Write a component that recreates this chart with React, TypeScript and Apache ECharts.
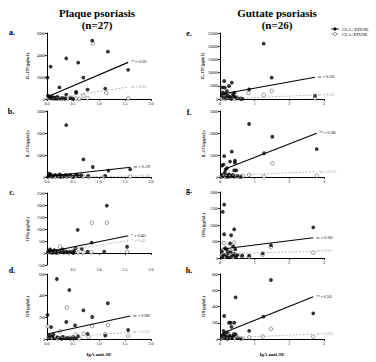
import React, { useEffect, useRef } from "react";
import * as echarts from "echarts";

const FONT = "Liberation Serif, Times New Roman, serif";

// Plaque psoriasis (n=27): x = IgA anti-SE
const plaqueIL17F_pos = [[0.01,1950],[0.07,2950],[0.37,3700],[0.60,3300],[0.87,5300],[1.17,4300],[0.70,1950],[1.56,2650],[0.24,1050],[0.78,850],[1.12,950],[0.56,650],[0.56,550],[0.37,400],[0.02,300],[0.05,150],[0.08,80],[0.10,200],[0.12,50],[0.15,120],[0.18,30],[0.20,180],[0.25,60],[0.30,100],[0.35,40],[0.45,80],[0.50,20]];
const plaqueIL17F_neg = [[0.88,5050],[1.14,550],[0.70,300],[0.03,100],[0.06,40],[0.09,150],[0.13,20],[0.17,80],[0.22,30],[0.28,10],[0.33,60],[0.40,20],[0.48,50],[0.55,30],[0.62,10],[0.78,80],[1.56,60]];
const plaqueIL17F_fitPos = [[0.01,210],[1.56,3330]];
const plaqueIL17F_fitNeg = [[0.10,50],[1.56,1080]];

const plaqueIL17A_pos = [[0.37,2360],[0.70,800],[0.88,455],[1.18,290],[1.60,350],[1.12,45],[0.79,50],[0.07,120],[0.58,110],[0.02,30],[0.05,80],[0.10,20],[0.13,60],[0.16,100],[0.20,40],[0.24,120],[0.28,70],[0.32,30],[0.36,90],[0.40,50],[0.45,100],[0.50,20],[0.55,60],[0.62,30],[0.66,80],[0.04,150],[0.26,10]];
const plaqueIL17A_neg = [[0.03,20],[0.08,40],[0.15,10],[0.22,30],[0.30,15],[0.38,25],[0.47,10],[0.55,30],[0.70,20],[0.80,10],[1.10,15],[1.60,20]];
const plaqueIL17A_fitPos = [[0.0,20],[1.61,440]];
const plaqueIL17A_fitNeg = [[0.0,0],[1.61,40]];

const plaqueIFNg_pos = [[1.15,1970],[0.59,960],[0.86,430],[1.54,260],[0.67,170],[0.78,60],[1.10,60],[0.55,190],[0.06,150],[0.02,50],[0.04,100],[0.08,20],[0.10,80],[0.12,30],[0.15,60],[0.18,10],[0.20,90],[0.25,40],[0.28,100],[0.32,20],[0.36,70],[0.40,30],[0.45,50],[0.50,10],[0.52,80],[0.14,120],[0.30,150]];
const plaqueIFNg_neg = [[0.86,1260],[1.15,1260],[0.25,260],[1.54,50],[0.03,30],[0.07,80],[0.12,10],[0.18,50],[0.22,20],[0.35,40],[0.42,10],[0.50,60],[0.60,20],[0.70,10],[0.85,30]];
const plaqueIFNg_fitPos = [[0.0,30],[1.56,720]];
const plaqueIFNg_fitNeg = [[0.0,0],[1.56,510]];

const plaqueIL9_pos = [[0.19,554],[0.43,452],[0.70,265],[1.17,330],[0.87,203],[0.01,222],[0.37,157],[0.54,126],[0.08,110],[1.56,83],[0.78,46],[1.12,32],[0.05,30],[0.03,10],[0.10,20],[0.14,5],[0.20,15],[0.25,8],[0.30,20],[0.35,5],[0.40,12],[0.45,3],[0.50,18],[0.55,6],[0.60,25],[0.12,40],[0.28,2]];
const plaqueIL9_neg = [[0.38,290],[0.87,120],[1.17,130],[0.01,115],[0.25,70],[0.70,50],[0.55,40],[0.04,20],[0.10,10],[0.15,25],[0.20,5],[0.32,15],[0.45,10],[0.62,5],[0.80,20],[1.12,45],[1.56,30]];
const plaqueIL9_fitPos = [[0.0,46],[1.6,212]];
const plaqueIL9_fitNeg = [[0.0,6],[1.6,62]];

// Guttate psoriasis (n=26)
const guttIL17F_pos = [[1.26,20950],[1.49,8070],[0.12,6820],[0.34,6180],[0.26,4920],[0.07,4420],[0.14,4300],[0.84,3670],[0.42,2400],[2.74,1260],[0.05,1500],[0.10,500],[0.15,2000],[0.18,300],[0.22,1200],[0.28,800],[0.32,100],[0.38,1800],[0.45,600],[0.50,200],[0.60,100],[0.08,2500],[0.20,3000],[0.30,400],[0.40,1000],[0.65,50]];
const guttIL17F_neg = [[1.49,3030],[0.82,2270],[1.26,1520],[0.05,200],[0.10,800],[0.14,100],[0.20,400],[0.28,1500],[0.35,300],[0.42,50],[0.50,600],[0.60,100],[2.74,300],[0.09,1000]];
const guttIL17F_fitPos = [[0.07,1890],[2.74,8210]];
const guttIL17F_fitNeg = [[0.07,0],[2.74,1520]];

const guttIL17A_pos = [[0.84,2410],[1.51,1830],[2.79,1270],[0.34,1150],[1.27,1080],[0.12,950],[0.43,740],[0.43,650],[0.29,700],[0.06,520],[0.10,560],[0.41,300],[0.47,300],[0.05,100],[0.08,30],[0.14,200],[0.18,60],[0.22,10],[0.26,120],[0.30,40],[0.36,80],[0.40,20],[0.50,50],[0.60,10],[0.20,400],[0.16,330]];
const guttIL17A_neg = [[1.51,620],[0.84,100],[0.05,40],[0.10,120],[0.15,10],[0.22,60],[0.30,20],[0.38,90],[0.45,30],[0.55,10],[0.65,40],[1.27,20],[2.79,60]];
const guttIL17A_fitPos = [[0.14,360],[2.79,1985]];
const guttIL17A_fitNeg = [[0.05,60],[2.79,240]];

const guttIFNg_pos = [[0.12,1620],[0.08,1400],[2.69,930],[0.12,720],[0.32,690],[0.41,870],[0.29,440],[0.44,260],[1.47,390],[1.23,140],[0.84,70],[0.64,75],[0.05,200],[0.10,100],[0.15,300],[0.18,50],[0.22,150],[0.26,20],[0.30,180],[0.35,60],[0.40,120],[0.45,30],[0.50,90],[0.07,40],[0.20,250],[0.38,350]];
const guttIFNg_neg = [[0.12,450],[0.41,470],[1.47,330],[1.23,100],[2.69,160],[0.05,80],[0.09,250],[0.14,30],[0.20,120],[0.25,60],[0.32,200],[0.38,20],[0.46,100],[0.55,40],[0.84,30],[0.64,50]];
const guttIFNg_fitPos = [[0.07,273],[2.69,615]];
const guttIFNg_fitNeg = [[0.05,130],[2.69,200]];

const guttIL9_pos = [[1.47,726],[0.45,513],[0.12,283],[1.25,275],[2.69,316],[0.26,200],[0.31,200],[0.41,200],[0.33,150],[0.84,100],[0.10,100],[0.40,60],[0.45,60],[0.05,20],[0.08,50],[0.14,10],[0.18,30],[0.22,5],[0.28,40],[0.35,15],[0.50,10],[0.60,5],[0.12,60],[0.20,80],[0.30,20],[0.38,30]];
const guttIL9_neg = [[1.47,125],[1.23,30],[2.69,30],[0.05,10],[0.10,40],[0.15,20],[0.20,5],[0.25,60],[0.30,15],[0.35,30],[0.42,10],[0.50,25],[0.64,5],[0.84,20]];
const guttIL9_fitPos = [[0.07,70],[2.69,521]];
const guttIL9_fitNeg = [[0.07,10],[2.69,60]];

const panels = [
  { letter: "a.", lx: 12, ly: 32, left: 47, top: 33, height: 66, xMax: 2, xInt: 0.5, yMin: 0, yMax: 6000, yInt: 2000, yName: "IL-17F (pg/mL)", nameGap: 18, pos: plaqueIL17F_pos, neg: plaqueIL17F_neg, fitPos: plaqueIL17F_fitPos, fitNeg: plaqueIL17F_fitNeg, rPos: "** r=0.501", rNeg: "ns  r=0.251" },
  { letter: "b.", lx: 11, ly: 111, left: 47, top: 111, height: 66, xMax: 2, xInt: 0.5, yMin: 0, yMax: 3000, yInt: 1000, yName: "IL-17A (pg/mL)", nameGap: 18, pos: plaqueIL17A_pos, neg: plaqueIL17A_neg, fitPos: plaqueIL17A_fitPos, fitNeg: plaqueIL17A_fitNeg, rPos: "ns  r=0.139", rNeg: "ns  r=0.100" },
  { letter: "c.", lx: 12, ly: 192, left: 47, top: 193, height: 72, xMax: 2, xInt: 0.5, yMin: -500, yMax: 2500, yInt: 500, yName: "IFNγ (pg/mL)", nameGap: 18, hideMinX: true, pos: plaqueIFNg_pos, neg: plaqueIFNg_neg, fitPos: plaqueIFNg_fitPos, fitNeg: plaqueIFNg_fitNeg, rPos: "*  r=0.461", rNeg: "*  r=0.415" },
  { letter: "d.", lx: 12, ly: 270, left: 47, top: 274, height: 65, xMax: 2, xInt: 0.5, yMin: 0, yMax: 600, yInt: 200, yName: "IL9 (pg/mL)", nameGap: 18, xName: "IgA anti-SE", pos: plaqueIL9_pos, neg: plaqueIL9_neg, fitPos: plaqueIL9_fitPos, fitNeg: plaqueIL9_fitNeg, rPos: "ns  r=0.288", rNeg: "ns  r=0.125" },
  { letter: "e.", lx: 189, ly: 33, left: 220, top: 33, height: 66, xMax: 3, xInt: 1, yMin: 0, yMax: 25000, yInt: 5000, yName: "IL-17F (pg/mL)", nameGap: 15, pos: guttIL17F_pos, neg: guttIL17F_neg, fitPos: guttIL17F_fitPos, fitNeg: guttIL17F_fitNeg, rPos: "ns  r=0.330", rNeg: "ns  r=0.133" },
  { letter: "f.", lx: 189, ly: 112, left: 220, top: 111, height: 66, xMax: 3, xInt: 1, yMin: 0, yMax: 3000, yInt: 1000, yName: "IL-17A (pg/mL)", nameGap: 15, pos: guttIL17A_pos, neg: guttIL17A_neg, fitPos: guttIL17A_fitPos, fitNeg: guttIL17A_fitNeg, rPos: "** r=0.586", rNeg: "ns  r=0.273" },
  { letter: "g.", lx: 189, ly: 190, left: 220, top: 192, height: 66, xMax: 3, xInt: 1, yMin: 0, yMax: 2000, yInt: 500, yName: "IFNγ (pg/mL)", nameGap: 15, pos: guttIFNg_pos, neg: guttIFNg_neg, fitPos: guttIFNg_fitPos, fitNeg: guttIFNg_fitNeg, rPos: "ns  r=0.160", rNeg: "ns  r=0.171" },
  { letter: "h.", lx: 189, ly: 270, left: 220, top: 274, height: 65, xMax: 3, xInt: 1, yMin: 0, yMax: 800, yInt: 200, yName: "IL9 (pg/mL)", nameGap: 15, xName: "IgA anti-SE", pos: guttIL9_pos, neg: guttIL9_neg, fitPos: guttIL9_fitPos, fitNeg: guttIL9_fitNeg, rPos: "** r=0.505", rNeg: "ns  r=0.224" },
];

const legendItems = ["CLA+/EPUSE", "CLA-/EPUSE"];

export default function App() {
  const ref = useRef<HTMLDivElement>(null);
  useEffect(() => {
    if (!ref.current) return;
    const chart = echarts.init(ref.current, undefined, { renderer: "svg" });
    const axisLine = { show: true, onZero: true, lineStyle: { color: "#000", width: 1 } };
    const axisTick = { show: true, length: 2, lineStyle: { color: "#000", width: 0.8 } };
    const labelStyle = { fontSize: 4, color: "#000", fontFamily: FONT, margin: 2 };
    const series: any[] = [];
    panels.forEach((p, i) => {
      series.push({
        type: "scatter", xAxisIndex: i, yAxisIndex: i, data: p.neg, symbolSize: 3.6,
        itemStyle: { color: "#fff", borderColor: "#444", borderWidth: 0.7 }, silent: true,
      });
      series.push({
        type: "scatter", xAxisIndex: i, yAxisIndex: i, data: p.pos, symbolSize: 3.8,
        itemStyle: { color: "#000" }, silent: true,
      });
      series.push({
        type: "line", xAxisIndex: i, yAxisIndex: i, data: p.fitNeg, symbol: "none", silent: true,
        lineStyle: { color: "#aaa", width: 0.8, type: [2, 1.5] },
        endLabel: { show: true, formatter: p.rNeg, fontSize: 3.6, color: "#999", fontFamily: FONT, distance: 3 },
      });
      series.push({
        type: "line", xAxisIndex: i, yAxisIndex: i, data: p.fitPos, symbol: "none", silent: true,
        lineStyle: { color: "#000", width: 1.1 },
        endLabel: { show: true, formatter: p.rPos, fontSize: 3.6, color: "#000", fontFamily: FONT, distance: 3 },
      });
    });

    const titleStyle = { fontSize: 11, fontWeight: "bold", fontFamily: FONT, fill: "#000", align: "center", verticalAlign: "middle" };
    const graphics: any[] = [
      { type: "text", x: 97, y: 13, style: { ...titleStyle, text: "Plaque psoriasis" } },
      { type: "text", x: 97, y: 25, style: { ...titleStyle, text: "(n=27)" } },
      { type: "text", x: 277, y: 13, style: { ...titleStyle, text: "Guttate psoriasis" } },
      { type: "text", x: 277, y: 25, style: { ...titleStyle, text: "(n=26)" } },
    ];
    panels.forEach((p) => {
      graphics.push({ type: "text", x: p.lx, y: p.ly, style: { text: p.letter, fontSize: 8, fontWeight: "bold", fontFamily: FONT, fill: "#000", align: "center", verticalAlign: "middle" } });
    });
    legendItems.forEach((t, k) => {
      const y = 29 + k * 5;
      graphics.push({ type: "line", shape: { x1: 331, y1: y, x2: 339, y2: y }, style: { stroke: k === 0 ? "#000" : "#999", lineWidth: 0.8, lineDash: k === 0 ? null : [1.5, 1] } });
      graphics.push({ type: "circle", shape: { cx: 335, cy: y, r: 1.6 }, style: k === 0 ? { fill: "#000" } : { fill: "#fff", stroke: "#444", lineWidth: 0.6 } });
      graphics.push({ type: "text", x: 342, y, style: { text: t, fontSize: 4.5, fontFamily: FONT, fill: "#000", align: "left", verticalAlign: "middle" } });
    });

    chart.setOption({
      animation: false,
      backgroundColor: "#fff",
      grid: panels.map((p) => ({ left: p.left, top: p.top, width: 104, height: p.height })),
      xAxis: panels.map((p, i) => ({
        gridIndex: i, type: "value", min: 0, max: p.xMax, interval: p.xInt,
        axisLine, axisTick, splitLine: { show: false },
        axisLabel: { ...labelStyle, showMinLabel: !p.hideMinX, formatter: (v: number) => (p.xMax === 2 ? v.toFixed(1) : String(v)) },
        name: p.xName || "", nameLocation: "middle", nameGap: 13,
        nameTextStyle: { fontSize: 5, fontWeight: "bold", fontFamily: FONT, color: "#000" },
      })),
      yAxis: panels.map((p, i) => ({
        gridIndex: i, type: "value", min: p.yMin, max: p.yMax, interval: p.yInt,
        axisLine, axisTick, splitLine: { show: false },
        axisLabel: { ...labelStyle, formatter: (v: number) => String(v) },
        name: p.yName, nameLocation: "middle", nameGap: p.nameGap, nameRotate: 90,
        nameTextStyle: { fontSize: 4, fontWeight: "bold", fontFamily: FONT, color: "#000" },
      })),
      series,
      graphic: graphics,
    });
    return () => chart.dispose();
  }, []);
  return <div ref={ref} style={{ position: "fixed", left: 0, top: 0, width: 376, height: 362 }} />;
}
